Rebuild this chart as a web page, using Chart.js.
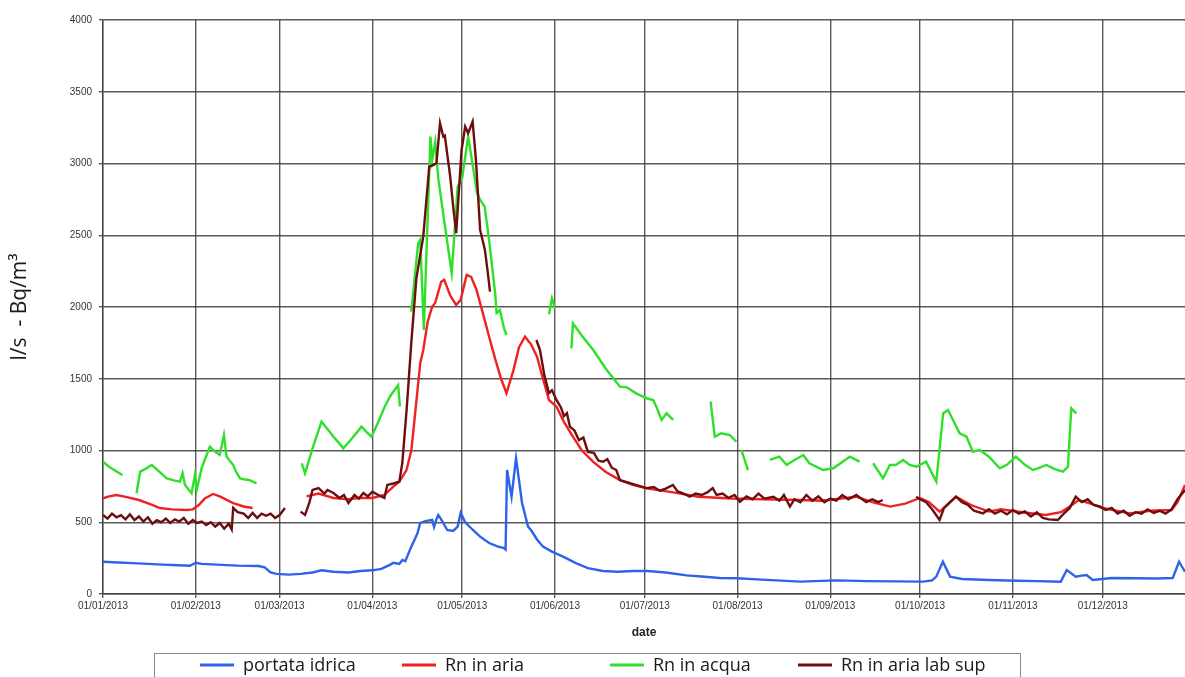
<!DOCTYPE html>
<html>
<head>
<meta charset="utf-8">
<title>Portata idrica e Rn - 2013</title>
<script src="https://cdn.jsdelivr.net/npm/chart.js@4.4.1/dist/chart.umd.min.js"></script>
<style>
  html, body { margin: 0; padding: 0; background: #fff; }
  #wrap { width: 1185px; height: 677px; position: relative; }
</style>
</head>
<body>
<div id="wrap"><canvas id="rnChart"></canvas></div>
<script>
/* === Portata idrica / Rn 2013 === */

// x values are days since 01/01/2013
var monthStarts = [0, 31, 59, 90, 120, 151, 181, 212, 243, 273, 304, 334];
var tickLabels = ['01/01/2013', '01/02/2013', '01/03/2013', '01/04/2013', '01/05/2013', '01/06/2013',
  '01/07/2013', '01/08/2013', '01/09/2013', '01/10/2013', '01/11/2013', '01/12/2013'];
var seriesNames = ['portata idrica', 'Rn in aria', 'Rn in acqua', 'Rn in aria lab sup'];

var flowDays = [0, 5, 10, 15, 20, 25, 29, 31, 33, 38, 45, 52, 54, 56, 58, 62, 66, 70, 73, 77, 82, 86, 90, 93, 96, 97,
  99, 100, 101, 103, 105, 106, 108, 110, 110.6, 111.4, 112, 113, 115, 117, 118.5, 119.5, 121, 123.6, 126, 129, 132,
  134, 134.5, 135, 136.5, 138, 140, 142, 143, 145, 147, 150, 153.7, 158, 162, 167, 172, 177, 182, 188, 195, 200, 206,
  212, 220, 233, 245, 255, 265, 274, 277, 278.4, 280.6, 283, 287, 296, 305, 312, 320, 322, 325, 327, 328.6, 330.7,
  337, 345, 352, 357.4, 359.5, 361.5];
var flowValues = [225, 220, 215, 210, 205, 200, 197, 218, 210, 205, 198, 195, 185, 150, 140, 135, 140, 150, 165, 155,
  150, 160, 165, 175, 205, 218, 210, 237, 228, 330, 420, 495, 510, 516, 467, 520, 550, 520, 446, 440, 470, 567, 500,
  446, 400, 355, 330, 320, 310, 864, 678, 947, 634, 470, 446, 380, 330, 295, 260, 215, 180, 160, 155, 160, 160, 150,
  130, 122, 112, 110, 100, 86, 95, 90, 88, 86, 95, 121, 225, 121, 105, 98, 92, 90, 86, 167, 121, 128, 132, 98,
  111, 110, 108, 111, 225, 155];

var airDays = [0, 2, 4.5, 8, 12, 16, 19, 23, 28, 30, 32, 34, 36.8, 39, 43.5, 47, 50, 60, 68, 72, 77, 82, 86, 90, 94,
  97, 99, 101.4, 103, 104, 106, 107, 108.5, 110, 111, 113, 114, 116, 118, 119.5, 121.5, 123, 124.8, 127, 129, 131,
  133, 134.8, 137, 139, 141, 143, 145, 147, 149, 151.5, 154, 157, 160, 163.7, 168, 172.7, 177, 181.6, 190, 199, 210,
  220, 233, 240, 251.7, 257, 263, 268, 273, 276, 279.5, 282, 285, 290, 296, 300, 307, 315, 320, 323, 326, 330, 334,
  343, 350, 357, 359, 361.5];
var airValues = [667, 680, 690, 675, 655, 625, 599, 590, 585, 590, 620, 665, 697, 680, 634, 610, 599, null, 680, 700,
  669, 660, 670, 669, 690, 748, 783, 864, 1000, 1200, 1610, 1700, 1900, 2002, 2030, 2176, 2190, 2080, 2014, 2050,
  2223, 2210, 2119, 1950, 1793, 1640, 1500, 1399, 1550, 1720, 1793, 1740, 1654, 1500, 1352, 1305, 1200, 1096, 1000,
  922, 850, 794, 760, 736, 710, 678, 665, 660, 655, 650, 678, 640, 609, 630, 669, 640, 574, 620, 678, 620, 574, 590,
  570, 551, 570, 610, 655, 630, 599, 562, 580, 585, 640, 760];

var waterDays = [0, 2, 4, 6.5, 7,
  11.2, 12.4, 14, 16.3, 19, 21.3, 24, 25.7, 26.6, 27.4, 29.6, 30.7, 31.3, 33, 35.7, 37, 39, 40.4, 41.3, 43.5, 44.5,
  45.8, 47, 49, 51.3, 52,
  66.4, 67.5, 70.2, 73, 75, 77, 78.5, 80.3, 83, 86.4, 88, 89.7, 92, 94, 96, 98.6, 99.2, 100,
  103, 105.3, 106, 107.2, 109.4, 110, 111, 112, 114, 116.5, 118.5, 120, 122, 125, 126, 127.5, 129, 131, 131.5, 132.6,
  134, 134.8, 135.5,
  149, 150, 151, 151.5,
  156.5, 157, 160, 163.8, 168, 172.7, 175, 178, 181.6, 183.8, 185, 186.6, 188.3, 190.5, 191,
  203, 204.4, 206.6, 209.4, 211.6, 212,
  213.3, 215.5, 216,
  222.8, 226, 228.4, 231, 234, 236, 240.6, 244, 247, 249.5, 252.8, 254,
  257.3, 260.6, 262.9, 265, 267.3, 269.5, 271.8, 275, 278.4, 280.7, 282.3, 284, 286.2, 288.5, 290.6, 293, 296, 299.6,
  302, 305, 308, 310.7, 313, 315.2, 318, 320.7, 322.4, 323.5, 325.2];
var waterValues = [922, 887, 860, 829, null,
  702, 852, 870, 899, 850, 806, 790, 783, 841, 760, 702, 829, 725, 880, 1027, 1000, 969, 1108, 957, 899, 850,
  806, 800, 794, 771, null,
  911, 841, 1027, 1201, 1150, 1096, 1060, 1015, 1080, 1166, 1130, 1096, 1200, 1300, 1380, 1456, 1306, null,
  1967, 2444, 2470, 1840, 3187, 3025, 3150, 2900, 2600, 2237, 2839, 2900, 3187, 2794, 2746, 2700, 2467, 2100, 1958,
  1979, 1850, 1805, null,
  1950, 2060, 1990, null,
  1712, 1886, 1800, 1700, 1570, 1445, 1440, 1400, 1364, 1352, 1300, 1213, 1259, 1213, null,
  1340, 1096, 1120, 1108, 1061, null,
  1003, 864, null,
  934, 957, 899, 934, 969, 911, 864, 876, 920, 957, 922, null,
  911, 806, 899, 900, 934, 900, 887, 922, 783, 1259, 1282, 1213, 1120, 1096, 992, 1003, 957, 876,
  900, 957, 900, 864, 880, 899, 870, 852, 887, 1294, 1259];

var labDays = [0, 1.5, 3, 4.5, 6, 7.5, 9, 10.5, 12, 13.5, 15, 16.5, 18, 19.5, 21, 22.5, 24, 25.5, 27, 28.5, 30, 31.5,
  33, 34.5, 36, 37.5, 39, 40.5, 42, 43, 43.5, 45, 47, 48.5, 50, 51.5, 53, 54.5, 56, 57.5, 59, 60.8, 62,
  66, 67.5, 69, 70, 72, 74, 75, 77, 79, 80.5, 82, 84, 85.5, 87, 88.5, 90, 92, 94, 95, 97, 99, 100, 101.5, 103, 104.7,
  107, 109, 110.5, 111.4, 112.6, 113.7, 114.2, 116, 117, 118, 119.8, 121, 122, 123.5, 124.6, 126, 127.6, 128.5,
  129.3, 130,
  144.8, 146, 147.5, 149, 150, 151.5, 153, 154, 155, 156, 157.5, 159, 160.5, 162, 164, 165.5, 167, 168.5, 170, 171.5,
  172.7, 175, 178, 181.6, 184, 186, 188, 190.4, 192, 194, 196, 198, 200, 202, 203.7, 205, 207, 209, 211, 212.8, 215,
  217, 219, 221, 224, 226, 227.5, 229.5, 231, 233, 235, 237, 239, 241, 243, 245, 247, 249, 251.7, 253, 255, 257, 259,
  260.5, 261.5,
  271.7, 273, 275, 277, 279.5, 281, 283, 285, 287, 289, 291, 294, 296, 298, 300, 302, 304, 306, 308, 310, 312, 314,
  316, 319, 321, 323, 325, 327, 329, 331, 333, 335, 337, 339, 341, 343, 345, 347, 349, 351, 353, 355, 357, 359, 361.5];
var labValues = [551, 525, 560, 535, 550, 520, 555, 515, 540, 505, 535, 490, 515, 500, 525, 495, 520, 505, 530, 490,
  515, 495, 505, 480, 500, 470, 495, 455, 490, 450, 600, 570, 560, 530, 565, 530, 560, 545, 560, 530, 550, 599, null,
  574, 551, 640, 725, 738, 700, 725, 704, 669, 690, 634, 690, 665, 704, 680, 713, 690, 669, 760, 770, 783, 913, 1300,
  1750, 2200, 2490, 2978, 2990, 3003, 3280, 3187, 3194, 2908, 2700, 2515, 3094, 3257, 3212, 3292, 3025, 2537, 2397,
  2250, 2107, null,
  1770, 1700, 1520, 1400, 1420, 1352, 1300, 1240, 1260, 1166, 1140, 1073, 1090, 990, 983, 930, 922, 940, 880, 864,
  794, 780, 760, 738, 745, 720, 735, 760, 715, 700, 678, 700, 690, 710, 738, 690, 700, 670, 690, 643, 680,
  660, 700, 665, 678, 650, 690, 609, 660, 640, 690, 650, 680, 640, 665, 650, 690, 660, 690, 670, 640, 660, 640,
  655, null,
  678, 660, 640, 590, 516, 600, 640, 678, 640, 620, 580, 562, 590, 560, 580, 555, 585, 560, 575, 540, 570, 530,
  520, 516, 560, 600, 678, 640, 660, 620, 610, 585, 600, 560, 580, 545, 570, 560, 590, 565, 580, 560, 590, 660, 725];

(function () {
  'use strict';

  /* global Chart */

  var COLORS = ['#2f62ea', '#ee2222', '#2fe02a', '#6e0d0d'];
  var LEGEND_X = [200, 402, 610, 798];
  var GRID = 'rgba(60,60,60,0.85)';
  var TICK_FONT = { family: "'Liberation Sans', Arial, sans-serif", size: 10 };

  function toPoints(days, values) {
    return days.map(function (d, i) { return { x: d, y: values[i] }; });
  }

  function makeDataset(i, days, values, order) {
    return {
      label: seriesNames[i],
      data: toPoints(days, values),
      borderColor: COLORS[i],
      backgroundColor: COLORS[i],
      borderWidth: 2.4,
      pointRadius: 0,
      tension: 0,
      spanGaps: false,
      order: order,
    };
  }

  // Excel-like boxed legend under the axis title
  var boxLegend = {
    id: 'boxLegend',
    afterDraw: function (chart) {
      var c = chart.ctx;
      var y = 665;
      c.save();
      c.strokeStyle = '#8a8a8a';
      c.lineWidth = 1;
      c.strokeRect(154.5, 653.5, 866, 40);
      c.font = "18px 'Open Sans', sans-serif";
      c.textBaseline = 'middle';
      c.textAlign = 'left';
      chart.data.datasets.forEach(function (ds, i) {
        var x = LEGEND_X[i];
        c.strokeStyle = ds.borderColor;
        c.lineWidth = 3;
        c.beginPath();
        c.moveTo(x, y);
        c.lineTo(x + 34, y);
        c.stroke();
        c.fillStyle = '#1a1a1a';
        c.fillText(ds.label, x + 43, y + 1);
      });
      c.restore();
    }
  };

  var ctx = document.getElementById('rnChart');

  new Chart(ctx, {
    type: 'line',
    data: {
      datasets: [
        makeDataset(0, flowDays, flowValues, 3),
        makeDataset(1, airDays, airValues, 2),
        makeDataset(2, waterDays, waterValues, 1),
        makeDataset(3, labDays, labValues, 0),
      ],
    },
    options: {
      responsive: true,
      maintainAspectRatio: false,
      animation: false,
      layout: { padding: { top: 20, right: 0, bottom: 27, left: 0 } },
      plugins: { legend: { display: false }, tooltip: { enabled: false } },
      scales: {
        x: {
          type: 'linear',
          min: 0,
          max: 361.5,
          afterBuildTicks: function (scale) {
            scale.ticks = monthStarts.map(function (v) { return { value: v }; });
          },
          afterFit: function (scale) { scale.height = 56; },
          ticks: {
            autoSkip: false,
            maxRotation: 0,
            padding: 2,
            color: '#333',
            font: TICK_FONT,
            callback: function (v) { return tickLabels[monthStarts.indexOf(v)]; },
          },
          grid: { color: GRID, lineWidth: 1.4, tickLength: 4 },
          border: { color: GRID, width: 1.4 },
          title: {
            display: true,
            text: 'date',
            color: '#222',
            font: { family: "'Liberation Sans', Arial, sans-serif", size: 12, weight: 'bold' },
            padding: { top: 0, bottom: 10 },
          },
        },
        y: {
          min: 0,
          max: 4000,
          afterFit: function (scale) { scale.width = 103; },
          ticks: {
            stepSize: 500,
            padding: 7,
            color: '#333',
            font: TICK_FONT,
            callback: function (v) { return String(v); },
          },
          grid: { color: GRID, lineWidth: 1.4, tickLength: 4 },
          border: { color: GRID, width: 1.4 },
          title: {
            display: true,
            text: 'l/s  - Bq/m\u00b3',
            color: '#1a1a1a',
            font: { family: "'Open Sans', sans-serif", size: 21 },
            padding: { top: 7, bottom: 0 },
          },
        },
      },
    },
    plugins: [boxLegend],
  });
})();
</script>
</body>
</html>
